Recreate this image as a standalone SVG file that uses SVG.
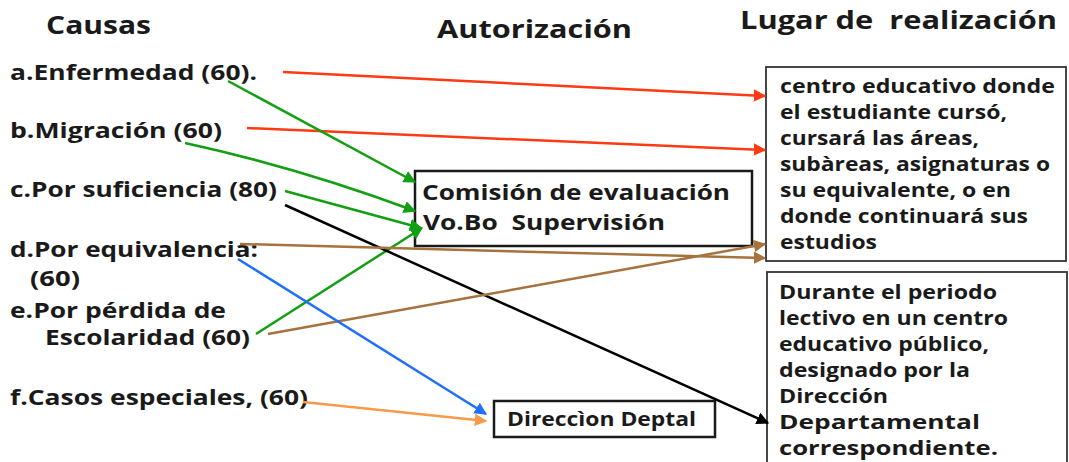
<svg xmlns="http://www.w3.org/2000/svg" width="1069" height="462" viewBox="0 0 1069 462">
<style>
text{font-family:"Open Sans","Liberation Sans",sans-serif;font-weight:bold;fill:#1a1a1a;white-space:pre}
.h{font-size:25px}
.c{font-size:21px}
.m{font-size:22px}
.b{font-size:20px}
.box{fill:#fff;stroke:#1a1a1a;stroke-width:2.5}
.rb{fill:#fff;stroke:#333;stroke-width:1.8}
.ln{fill:none;stroke-width:2.5}
</style>
<defs>
<marker id="aR" viewBox="0 0 10 10" refX="9" refY="5" markerWidth="5" markerHeight="5" orient="auto"><path d="M0,0L10,5L0,10z" fill="#ff3a10"/></marker>
<marker id="aG" viewBox="0 0 10 10" refX="9" refY="5" markerWidth="5" markerHeight="5" orient="auto"><path d="M0,0L10,5L0,10z" fill="#12a012"/></marker>
<marker id="aK" viewBox="0 0 10 10" refX="9" refY="5" markerWidth="5" markerHeight="5" orient="auto"><path d="M0,0L10,5L0,10z" fill="#000"/></marker>
<marker id="aN" viewBox="0 0 10 10" refX="9" refY="5" markerWidth="5" markerHeight="5" orient="auto"><path d="M0,0L10,5L0,10z" fill="#a6723e"/></marker>
<marker id="aB" viewBox="0 0 10 10" refX="9" refY="5" markerWidth="5" markerHeight="5" orient="auto"><path d="M0,0L10,5L0,10z" fill="#1f6fff"/></marker>
<marker id="aO" viewBox="0 0 10 10" refX="9" refY="5" markerWidth="5" markerHeight="5" orient="auto"><path d="M0,0L10,5L0,10z" fill="#f79a4a"/></marker>
</defs>
<rect width="1069" height="462" fill="#fff"/>
<g id="headers">
<text class="h" x="46" y="34" textLength="105" lengthAdjust="spacingAndGlyphs">Causas</text>
<text class="h" x="437" y="38" textLength="195" lengthAdjust="spacingAndGlyphs">Autorización</text>
<text class="h" x="740" y="29" textLength="317" lengthAdjust="spacingAndGlyphs">Lugar de  realización</text>
</g>
<g id="causas">
<text class="c" x="10" y="80" textLength="247" lengthAdjust="spacingAndGlyphs">a.Enfermedad (60).</text>
<text class="c" x="10" y="138" textLength="212" lengthAdjust="spacingAndGlyphs">b.Migración (60)</text>
<text class="c" x="10" y="197" textLength="267" lengthAdjust="spacingAndGlyphs">c.Por suficiencia (80)</text>
<text class="c" x="10" y="257" textLength="248" lengthAdjust="spacingAndGlyphs">d.Por equivalencia:</text>
<text class="c" x="30" y="286" textLength="50" lengthAdjust="spacingAndGlyphs">(60)</text>
<text class="c" x="10" y="318" textLength="216" lengthAdjust="spacingAndGlyphs">e.Por pérdida de</text>
<text class="c" x="45" y="345" textLength="205" lengthAdjust="spacingAndGlyphs">Escolaridad (60)</text>
<text class="c" x="10" y="405" textLength="298" lengthAdjust="spacingAndGlyphs">f.Casos especiales, (60)</text>
</g>
<g id="comision">
<rect class="box" x="415" y="171" width="337" height="75"/>
<text class="m" x="422" y="200" textLength="308" lengthAdjust="spacingAndGlyphs">Comisión de evaluación</text>
<text class="m" x="423" y="230" textLength="242" lengthAdjust="spacingAndGlyphs">Vo.Bo  Supervisión</text>
</g>
<g id="direccion">
<rect class="box" x="494" y="401" width="221" height="36"/>
<text class="b" x="507" y="426" textLength="189" lengthAdjust="spacingAndGlyphs">Direccìon Deptal</text>
</g>
<g id="lugar1">
<rect class="rb" x="766" y="67" width="300" height="194"/>
<text class="b" x="780" y="93" textLength="275" lengthAdjust="spacingAndGlyphs">centro educativo donde</text>
<text class="b" x="780" y="119" textLength="227" lengthAdjust="spacingAndGlyphs">el estudiante cursó,</text>
<text class="b" x="780" y="145" textLength="199" lengthAdjust="spacingAndGlyphs">cursará las áreas,</text>
<text class="b" x="780" y="171" textLength="270" lengthAdjust="spacingAndGlyphs">subàreas, asignaturas o</text>
<text class="b" x="780" y="197" textLength="231" lengthAdjust="spacingAndGlyphs">su equivalente, o en</text>
<text class="b" x="780" y="223" textLength="248" lengthAdjust="spacingAndGlyphs">donde continuará sus</text>
<text class="b" x="780" y="249" textLength="97" lengthAdjust="spacingAndGlyphs">estudios</text>
</g>
<g id="lugar2">
<rect class="rb" x="767" y="272" width="300" height="200"/>
<text class="b" x="779" y="299" textLength="218" lengthAdjust="spacingAndGlyphs">Durante el periodo</text>
<text class="b" x="779" y="325" textLength="229" lengthAdjust="spacingAndGlyphs">lectivo en un centro</text>
<text class="b" x="779" y="351" textLength="210" lengthAdjust="spacingAndGlyphs">educativo público,</text>
<text class="b" x="779" y="377" textLength="191" lengthAdjust="spacingAndGlyphs">designado por la</text>
<text class="b" x="779" y="403" textLength="109" lengthAdjust="spacingAndGlyphs">Dirección</text>
<text class="b" x="779" y="429" textLength="201" lengthAdjust="spacingAndGlyphs">Departamental</text>
<text class="b" x="779" y="455" textLength="219" lengthAdjust="spacingAndGlyphs">correspondiente.</text>
</g>
<g id="connectors">
<line class="ln" x1="283" y1="72" x2="765" y2="96" stroke="#ff3a10" marker-end="url(#aR)"/>
<line class="ln" x1="247" y1="128" x2="765" y2="150" stroke="#ff3a10" marker-end="url(#aR)"/>
<line class="ln" x1="228" y1="81" x2="415" y2="182" stroke="#12a012" marker-end="url(#aG)"/>
<path class="ln" d="M185,143 Q300,168 415,211" stroke="#12a012" marker-end="url(#aG)"/>
<line class="ln" x1="285" y1="191" x2="421" y2="228" stroke="#12a012" marker-end="url(#aG)"/>
<line class="ln" x1="256" y1="334" x2="422" y2="228" stroke="#12a012" marker-end="url(#aG)"/>
<line class="ln" x1="285" y1="205" x2="768" y2="423" stroke="#000" marker-end="url(#aK)"/>
<line class="ln" x1="240" y1="244" x2="765" y2="258" stroke="#a6723e" marker-end="url(#aN)"/>
<line class="ln" x1="268" y1="334" x2="765" y2="244" stroke="#a6723e" marker-end="url(#aN)"/>
<line class="ln" x1="238" y1="259" x2="486" y2="414" stroke="#1f6fff" marker-end="url(#aB)"/>
<line class="ln" x1="303" y1="402" x2="486" y2="421" stroke="#f79a4a" marker-end="url(#aO)"/>
</g>
</svg>
